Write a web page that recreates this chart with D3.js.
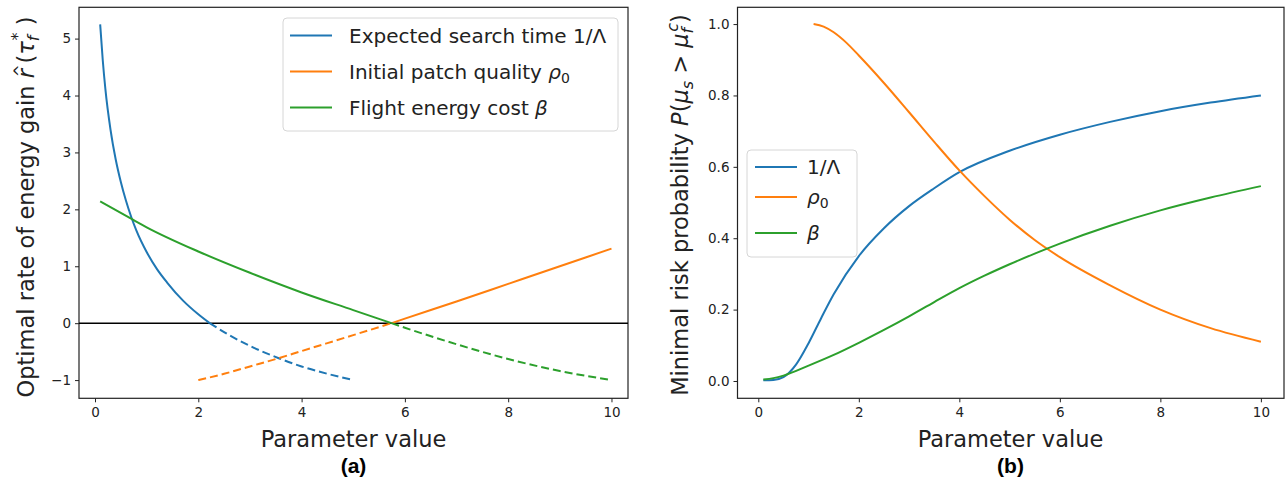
<!DOCTYPE html>
<html>
<head>
<meta charset="utf-8">
<script src="https://cdn.jsdelivr.net/npm/d3@7"></script>
<style>
  body { margin: 0; background: #fff; }
  svg { display: block; font-family: "DejaVu Sans", sans-serif; }
</style>
</head>
<body>
<div id="wrapper"></div>
<script>
// ---- panel (a): optimal rate of energy gain ----
const searchX = [0.1, 0.15, 0.2, 0.3, 0.4, 0.5, 0.6, 0.7, 0.8, 1.0, 1.2, 1.4, 1.7, 2.0, 2.22, 2.6, 3.0, 3.57, 4.0, 4.5, 5.0]
const searchY = [5.25, 4.62, 4.12, 3.40, 2.88, 2.48, 2.15, 1.87, 1.63, 1.25, 0.95, 0.71, 0.40, 0.155, 0.0, -0.21, -0.40, -0.62, -0.76, -0.89, -1.0]

const patchX = [2.0, 2.5, 3.0, 3.5, 4.0, 4.5, 5.0, 5.74, 6.0, 7.0, 8.0, 9.0, 10.0]
const patchY = [-1.0, -0.89, -0.76, -0.63, -0.49, -0.35, -0.21, 0.0, 0.08, 0.38, 0.69, 1.0, 1.31]

const flightX = [0.1, 0.69, 1.0, 2.0, 3.0, 4.0, 5.0, 5.74, 6.0, 7.0, 8.0, 9.0, 10.0]
const flightY = [2.14, 1.84, 1.685, 1.26, 0.885, 0.54, 0.23, 0.0, -0.08, -0.37, -0.63, -0.84, -1.0]

// ---- panel (b): minimal risk probability ----
const riskSearchX = [0.1, 0.3, 0.5, 0.75, 1.0, 1.25, 1.5, 2.0, 2.5, 3.0, 3.5, 4.0, 5.0, 6.0, 7.0, 8.0, 9.0, 10.0]
const riskSearchY = [0.002, 0.003, 0.011, 0.046, 0.106, 0.176, 0.243, 0.35, 0.428, 0.49, 0.54, 0.585, 0.645, 0.69, 0.726, 0.756, 0.78, 0.80]

const riskPatchX = [1.1, 1.3, 1.5, 1.75, 2.0, 2.5, 3.0, 3.5, 4.0, 4.5, 5.0, 5.5, 6.0, 7.0, 8.0, 9.0, 10.0]
const riskPatchY = [1.0, 0.993, 0.977, 0.948, 0.912, 0.835, 0.753, 0.67, 0.59, 0.518, 0.452, 0.395, 0.347, 0.268, 0.2, 0.148, 0.11]

const riskFlightX = [0.1, 0.3, 0.5, 1.0, 1.5, 2.0, 2.5, 3.0, 3.5, 4.0, 4.5, 5.0, 5.5, 6.0, 7.0, 8.0, 9.0, 10.0]
const riskFlightY = [0.004, 0.008, 0.015, 0.043, 0.073, 0.107, 0.143, 0.181, 0.221, 0.26, 0.295, 0.327, 0.357, 0.385, 0.435, 0.478, 0.514, 0.546]

const xTicks = [0, 2, 4, 6, 8, 10]
const yTicksA = [-1, 0, 1, 2, 3, 4, 5]
const yTicksB = [0, 0.2, 0.4, 0.6, 0.8, 1.0]

const colors = ["#1f77b4", "#ff7f0e", "#2ca02c"]

const W = 1287, H = 482

const svg = d3.select("#wrapper")
  .append("svg")
    .attr("width", W)
    .attr("height", H)

const zip = (xs, ys) => xs.map((x, i) => [x, ys[i]])

function drawFrame(x, y, box) {
  const xAxis = svg.append("g")
      .attr("transform", `translate(0,${box.bottom})`)
      .call(d3.axisBottom(x).tickValues(xTicks).tickSize(4).tickPadding(5))
  const yAxis = svg.append("g")
      .attr("transform", `translate(${box.left},0)`)
      .call(d3.axisLeft(y).tickValues(box.yTicks).tickFormat(box.fmt).tickSize(4).tickPadding(4))
  for (const a of [xAxis, yAxis]) {
    a.select(".domain").remove()
    a.selectAll("line").attr("stroke", "#222").attr("stroke-width", 1)
    a.selectAll("text").attr("fill", "#222").style("font-size", "13.5px").style("font-family", "DejaVu Sans")
  }
  svg.append("rect")
      .attr("x", box.left)
      .attr("y", box.top)
      .attr("width", box.right - box.left)
      .attr("height", box.bottom - box.top)
      .attr("fill", "none")
      .attr("stroke", "#222")
      .attr("stroke-width", 1.2)
}

function drawLine(x, y, pts, color, dashed) {
  const line = d3.line()
      .x(d => x(d[0]))
      .y(d => y(d[1]))
      .curve(d3.curveMonotoneX)
  svg.append("path")
      .attr("d", line(pts))
      .attr("fill", "none")
      .attr("stroke", color)
      .attr("stroke-width", 2)
      .attr("stroke-dasharray", dashed ? "8,4" : null)
}

function legend(box, rows) {
  svg.append("rect")
      .attr("x", box.x).attr("y", box.y)
      .attr("width", box.w).attr("height", box.h)
      .attr("rx", 4)
      .attr("fill", "#fff").attr("fill-opacity", 0.85)
      .attr("stroke", "#d6d6d6")
  rows.forEach((r, i) => {
    const cy = box.rows[i]
    svg.append("line")
        .attr("x1", box.lx1).attr("x2", box.lx2)
        .attr("y1", cy).attr("y2", cy)
        .attr("stroke", colors[i]).attr("stroke-width", 2)
    const t = svg.append("text")
        .attr("x", box.tx).attr("y", cy + 7)
        .attr("fill", "#222")
        .style("font-size", "20px")
    r.forEach(p => {
      const s = t.append("tspan").text(p.t)
      if (p.it) s.style("font-style", "italic")
      if (p.sub) s.style("font-size", "14px").attr("dy", 4)
    })
  })
}

// ---------- panel (a) ----------
const boxA = {left: 79, right: 628, top: 7.3, bottom: 398.3, yTicks: yTicksA, fmt: d3.format("d")}
const xA = d3.scaleLinear().domain([-0.31, 10.32]).range([boxA.left, boxA.right])
const yA = d3.scaleLinear().domain([-1.32, 5.55]).range([boxA.bottom, boxA.top])

drawFrame(xA, yA, boxA)

svg.append("line")
    .attr("x1", boxA.left).attr("x2", boxA.right)
    .attr("y1", yA(0)).attr("y2", yA(0))
    .attr("stroke", "#000").attr("stroke-width", 1.5)

const seriesA = [zip(searchX, searchY), zip(patchX, patchY), zip(flightX, flightY)]
seriesA.forEach((pts, i) => {
  drawLine(xA, yA, pts.filter(d => d[1] >= 0), colors[i], false)
  drawLine(xA, yA, pts.filter(d => d[1] <= 0), colors[i], true)
})

legend({x: 283, y: 18, w: 335, h: 113, lx1: 290, lx2: 332, tx: 349, rows: [35.5, 71.5, 107.5]}, [
  [{t: "Expected search time 1/Λ"}],
  [{t: "Initial patch quality "}, {t: "ρ", it: true}, {t: "0", sub: true}],
  [{t: "Flight energy cost "}, {t: "β", it: true}]
])

// ---------- panel (b) ----------
const boxB = {left: 737.5, right: 1284, top: 7.3, bottom: 398.3, yTicks: yTicksB, fmt: d3.format(".1f")}
const xB = d3.scaleLinear().domain([-0.414, 10.46]).range([boxB.left, boxB.right])
const yB = d3.scaleLinear().domain([-0.0485, 1.047]).range([boxB.bottom, boxB.top])

drawFrame(xB, yB, boxB)

const seriesB = [zip(riskSearchX, riskSearchY), zip(riskPatchX, riskPatchY), zip(riskFlightX, riskFlightY)]
seriesB.forEach((pts, i) => drawLine(xB, yB, pts, colors[i], false))

legend({x: 747, y: 150, w: 110, h: 107, lx1: 755, lx2: 797, tx: 807, rows: [167, 197, 233]}, [
  [{t: "1/Λ"}],
  [{t: "ρ", it: true}, {t: "0", sub: true}],
  [{t: "β", it: true}]
])

// ---------- axis titles ----------
function xTitle(cx, letter) {
  svg.append("text")
      .attr("x", cx).attr("y", 447)
      .attr("text-anchor", "middle")
      .attr("fill", "#222")
      .style("font-size", "22.5px")
      .text("Parameter value")
  svg.append("text")
      .attr("x", cx).attr("y", 473)
      .attr("text-anchor", "middle")
      .attr("fill", "#000")
      .style("font-size", "21px")
      .style("font-weight", "bold")
      .style("font-family", "Liberation Sans")
      .text(`(${letter})`)
}
xTitle(353.5, "a")
xTitle(1010.5, "b")

const yLabelA = svg.append("text")
    .attr("transform", "translate(34,207) rotate(-90)")
    .attr("text-anchor", "middle")
    .attr("fill", "#222")
    .style("font-size", "22.5px")
yLabelA.append("tspan").text("Optimal rate of energy gain ")
yLabelA.append("tspan").text("r").style("font-style", "italic")
yLabelA.append("tspan").text("^").style("font-size", "15px").attr("dx", -8).attr("dy", -9)
yLabelA.append("tspan").text("(").attr("dx", 1).attr("dy", 9)
yLabelA.append("tspan").text("τ").style("font-style", "italic")
yLabelA.append("tspan").text("f").style("font-style", "italic").style("font-size", "16px").attr("dy", 5)
yLabelA.append("tspan").text("*").style("font-size", "16px").attr("dx", -5).attr("dy", -16)
yLabelA.append("tspan").text(" )").attr("dy", 11)

const yLabelB = svg.append("text")
    .attr("transform", "translate(688,205) rotate(-90)")
    .attr("text-anchor", "middle")
    .attr("fill", "#222")
    .style("font-size", "22.5px")
yLabelB.append("tspan").text("Minimal risk probability ")
yLabelB.append("tspan").text("P").style("font-style", "italic")
yLabelB.append("tspan").text("(")
yLabelB.append("tspan").text("μ").style("font-style", "italic")
yLabelB.append("tspan").text("s").style("font-style", "italic").style("font-size", "16px").attr("dy", 5)
yLabelB.append("tspan").text(" > ").attr("dy", -5)
yLabelB.append("tspan").text("μ").style("font-style", "italic")
yLabelB.append("tspan").text("f").style("font-style", "italic").style("font-size", "16px").attr("dy", 5)
yLabelB.append("tspan").text("c").style("font-style", "italic").style("font-size", "16px").attr("dx", -4).attr("dy", -15)
yLabelB.append("tspan").text(")").attr("dy", 10)
</script>
</body>
</html>
